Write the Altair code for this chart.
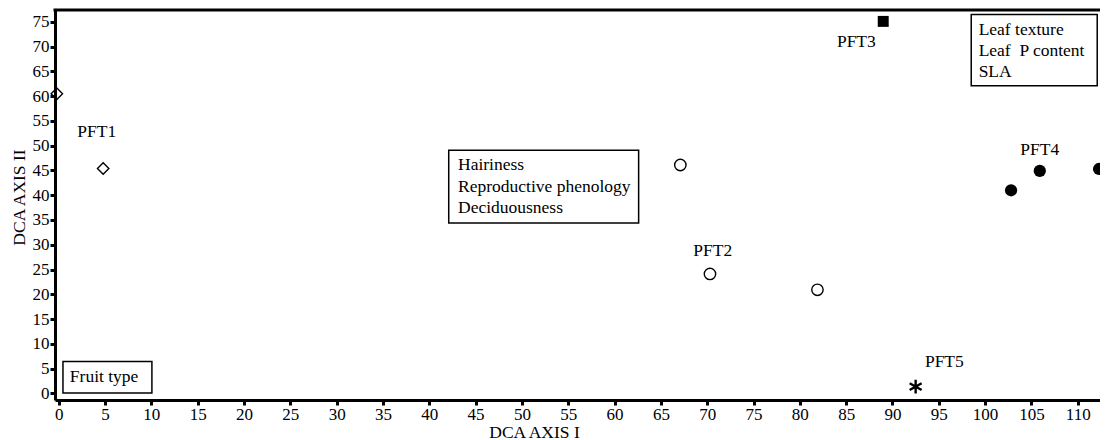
import altair as alt
import pandas as pd

# ---- data ----
pft1_x = [-0.2, 4.8]
pft1_y = [60.5, 45.4]
pft2_x = [67.1, 70.3, 81.9]
pft2_y = [46.1, 24.1, 20.9]
pft3_x = [89.0]
pft3_y = [75.1]
pft4_x = [102.8, 105.9, 112.3]
pft4_y = [41.0, 44.9, 45.3]
pft5_x = [92.5]
pft5_y = [1.35]

label_text = ["PFT1", "PFT2", "PFT3", "PFT4", "PFT5"]
label_x = [4.1, 70.6, 86.1, 105.9, 95.6]
label_y = [52.7, 28.7, 70.9, 49.1, 6.3]

# annotation boxes (data units)
box_x = [0.46, 42.1, 98.5]
box_x2 = [10.06, 62.6, 112.1]
box_y = [0.06, 34.4, 62.1]
box_y2 = [6.4, 49.1, 76.5]

note_text = ["Fruit type", "Hairiness", "Reproductive phenology", "Deciduousness",
             "Leaf texture", "Leaf\u00a0 P content", "SLA"]
note_x = [1.2, 43.1, 43.1, 43.1, 99.3, 99.3, 99.3]
note_y = [3.3, 46.1, 41.6, 37.4, 73.3, 69.1, 64.9]

x_ticks = list(range(0, 115, 5))
y_ticks = list(range(0, 80, 5))

XDOM = [-0.4, 112.4]
YDOM = [-1.35, 77.4]
W, H = 1045, 390
FONT = "Liberation Serif"

xs = alt.Scale(domain=XDOM, nice=False, zero=False)
ys = alt.Scale(domain=YDOM, nice=False, zero=False)

x_axis = alt.Axis(values=x_ticks, title="DCA AXIS I", titleX=479, titleY=23,
                  titleAlign="center", titleBaseline="top", labelOverlap=False)
y_axis = alt.Axis(values=y_ticks, title="DCA AXIS II", titleY=187, labelOverlap=False)

X = alt.X("x:Q", scale=xs, axis=x_axis)
Y = alt.Y("y:Q", scale=ys, axis=y_axis)

def pts(xv, yv):
    return pd.DataFrame({"x": xv, "y": yv})

p1 = alt.Chart(pts(pft1_x, pft1_y)).mark_point(
    shape="diamond", filled=False, color="black", size=130, strokeWidth=1.4, opacity=1
).encode(x=X, y=Y)
p2 = alt.Chart(pts(pft2_x, pft2_y)).mark_point(
    shape="circle", filled=False, color="black", size=130, strokeWidth=1.4, opacity=1
).encode(x=X, y=Y)
p3 = alt.Chart(pts(pft3_x, pft3_y)).mark_point(
    shape="square", filled=True, color="black", size=120, opacity=1
).encode(x=X, y=Y)
p4 = alt.Chart(pts(pft4_x, pft4_y)).mark_point(
    shape="circle", filled=True, color="black", size=150, opacity=1
).encode(x=X, y=Y)
p5 = alt.Chart(pts(pft5_x, pft5_y)).mark_point(
    shape="M0,-1L0,1M-0.87,-0.5L0.87,0.5M-0.87,0.5L0.87,-0.5",
    filled=False, color="black", size=190, strokeWidth=2.4, opacity=1
).encode(x=X, y=Y)

labels = alt.Chart(pd.DataFrame({"t": label_text, "x": label_x, "y": label_y})).mark_text(
    font=FONT, fontSize=17.5, color="black", align="center", baseline="middle"
).encode(x=X, y=Y, text="t:N")

boxes = alt.Chart(pd.DataFrame({"x": box_x, "x2": box_x2, "y": box_y, "y2": box_y2})).mark_rect(
    fill="white", stroke="black", strokeWidth=1.5
).encode(x=X, x2="x2:Q", y=Y, y2="y2:Q")

notes = alt.Chart(pd.DataFrame({"t": note_text, "x": note_x, "y": note_y})).mark_text(
    font=FONT, fontSize=17.5, color="black", align="left", baseline="middle"
).encode(x=X, y=Y, text="t:N")

top_line = alt.Chart(pd.DataFrame({"a": [0]})).mark_rule(
    color="black", strokeWidth=3
).encode(y=alt.value(0), x=alt.value(-1.5), x2=alt.value(W))

chart = alt.layer(boxes, notes, labels, p1, p2, p3, p4, p5, top_line).properties(
    width=W, height=H,
    autosize=alt.AutoSizeParams(type="none"),
    padding={"left": 47, "top": 2, "right": 0, "bottom": 40},
).configure_view(stroke=None).configure_axis(
    grid=False,
    labelFont=FONT, labelFontSize=17, labelColor="black",
    titleFont=FONT, titleFontSize=17.5, titleColor="black", titleFontWeight="normal",
    domainColor="black", domainWidth=3,
    tickColor="black", tickWidth=3, tickSize=5,
    labelPadding=1,
)

chart.save("out.html", embed_options={"renderer": "svg", "actions": False})
